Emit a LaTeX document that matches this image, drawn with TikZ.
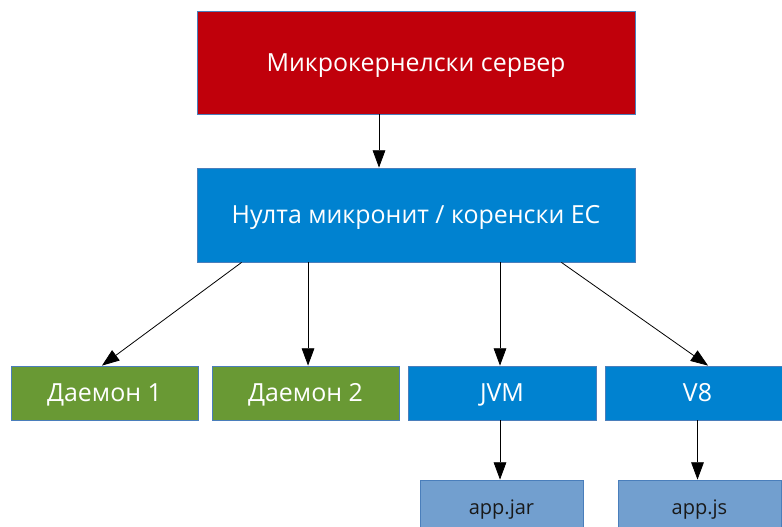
\documentclass[tikz,border=0pt]{standalone}
\usepackage{fontspec}
\setmainfont{Open Sans}
\usetikzlibrary{arrows.meta}
\definecolor{cred}{HTML}{C0000B}
\definecolor{cblue}{HTML}{0082D0}
\definecolor{cgreen}{HTML}{699934}
\definecolor{clight}{HTML}{729FCF}
\definecolor{cedge}{HTML}{4A7EBB}
\tikzset{
  box/.style={draw=cedge, line width=0.6pt, text=white, inner sep=0pt,
    font=\fontsize{18.7}{22}\selectfont, text height=13.35pt, text depth=0pt},
  appbox/.style={draw=cedge, line width=0.6pt, fill=clight, text=black!90, inner sep=0pt,
    font=\fontsize{15}{18}\selectfont, text height=10.7pt, text depth=0pt},
  conn/.style={-{Triangle[length=13pt,width=9.5pt]}, line width=0.6pt}
}
\begin{document}
\begin{tikzpicture}[x=0.75pt,y=-0.75pt]
\useasboundingbox (0,0) rectangle (782,526);
\node[box, fill=cred, minimum width=328.5pt, minimum height=77.25pt] (srv) at (416,62.5) {Микрокернелски сервер};
\node[box, fill=cblue, minimum width=328.5pt, minimum height=70.5pt] (os) at (416,215) {Нулта микронит / коренски ЕС};
\node[box, fill=cgreen, minimum width=140.25pt, minimum height=40.5pt] (d1) at (104.5,393) {Даемон 1};
\node[box, fill=cgreen, minimum width=140.25pt, minimum height=40.5pt] (d2) at (305.5,393) {Даемон 2};
\node[box, fill=cblue, minimum width=141pt, minimum height=40.5pt] (jvm) at (502,393) {JVM};
\node[box, fill=cblue, minimum width=138.75pt, minimum height=40.5pt] (v8) at (697.5,393) {V8};
\node[appbox, minimum width=122.25pt, minimum height=40.5pt] (jar) at (501.5,507) {app.jar};
\node[appbox, minimum width=122.25pt, minimum height=40.5pt] (js) at (699.5,507) {app.js};
\draw[conn] ([xshift=-27.75pt]srv.south) -- ([xshift=-27.75pt]os.north);
\draw[conn] ([xshift=33.75pt]os.south west) -- ([xshift=-1.9pt]d1.north);
\draw[conn] ([xshift=1.9pt]d2.north |- os.south) -- ([xshift=1.9pt]d2.north);
\draw[conn] ([xshift=-1.5pt]jvm.north |- os.south) -- ([xshift=-1.5pt]jvm.north);
\draw[conn] ([xshift=-55.5pt]os.south east) -- ([xshift=7.9pt]v8.north);
\draw[conn] ([xshift=-1.5pt]jvm.south) -- ([xshift=-1.5pt]jvm.south |- jar.north);
\draw[conn] (v8.south) -- (v8.south |- js.north);
\end{tikzpicture}
\end{document}
